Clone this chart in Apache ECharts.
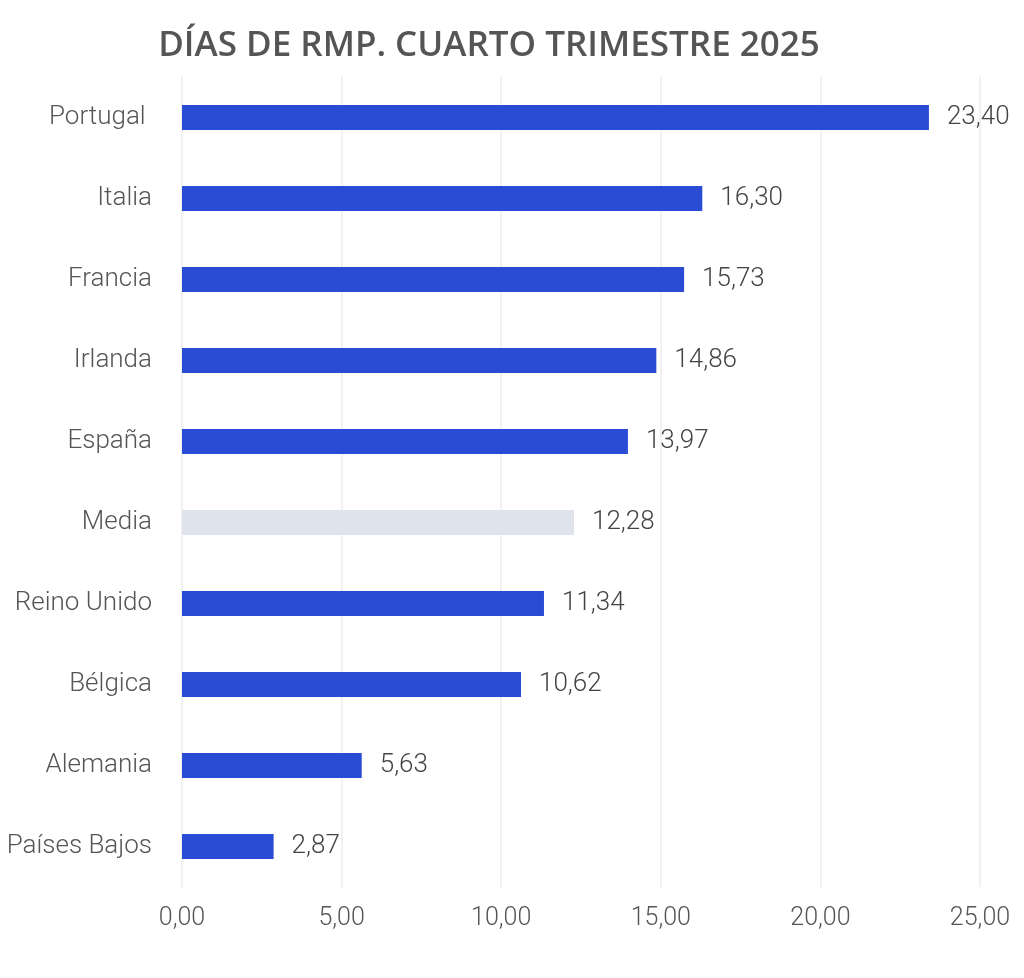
<!DOCTYPE html>
<html>
<head>
<meta charset="utf-8">
<script src="https://cdn.jsdelivr.net/npm/echarts@6/dist/echarts.min.js"></script>
<style>
  html, body { margin: 0; padding: 0; background: #fff; }
  #chart { width: 1024px; height: 978px; }
</style>
</head>
<body>
<div id="chart"></div>
<script>
// datos del gráfico
const paises = ["Portugal ", "Italia", "Francia", "Irlanda", "España", "Media", "Reino Unido", "Bélgica", "Alemania", "Países Bajos"];
const dias = [23.40, 16.30, 15.73, 14.86, 13.97, 12.28, 11.34, 10.62, 5.63, 2.87];
const ticksX = [0, 5, 10, 15, 20, 25];

const azul = "#2a4bd3";
const gris = "#dfe4ec";

function coma(v) {
  return Number(v).toFixed(2).replace(".", ",");
}

const chart = echarts.init(document.getElementById("chart"));

const option = {
  backgroundColor: "#fff",
  animation: false,
  title: {
    text: "DÍAS DE RMP. CUARTO TRIMESTRE 2025",
    left: 484,
    top: 24,
    textAlign: "center",
    textStyle: {
      fontFamily: "Open Sans",
      fontWeight: 600,
      fontSize: 35,
      color: "#555555",
    },
  },
  grid: {
    left: 182,
    right: 44,
    top: 77,
    bottom: 91,
    containLabel: false,
  },
  xAxis: {
    type: "value",
    min: ticksX[0],
    max: ticksX[ticksX.length - 1],
    interval: 5,
    axisLine: { show: false },
    axisTick: { show: false },
    splitLine: { lineStyle: { color: "#ececec", width: 1.5 } },
    axisLabel: {
      margin: 19,
      fontFamily: "Roboto",
      fontWeight: 300,
      fontSize: 25,
      color: "#555555",
      formatter: coma,
    },
  },
  yAxis: {
    type: "category",
    inverse: true,
    data: paises,
    axisLine: { show: false },
    axisTick: { show: false },
    axisLabel: {
      margin: 30,
      fontFamily: "Roboto",
      fontWeight: 300,
      fontSize: 26,
      color: "#555555",
    },
  },
  series: [
    {
      type: "bar",
      barWidth: 25,
      data: dias.map((v, i) => ({
        value: v,
        itemStyle: { color: paises[i] === "Media" ? gris : azul },
      })),
      label: {
        show: true,
        position: "right",
        distance: 18,
        fontFamily: "Roboto",
        fontWeight: 300,
        fontSize: 26,
        color: "#444444",
        formatter: (p) => coma(p.value),
      },
    },
  ],
};

chart.setOption(option);
</script>
</body>
</html>
